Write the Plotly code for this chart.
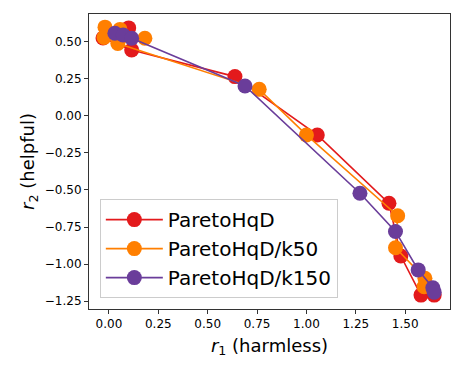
import plotly.graph_objects as go

FONT = "DejaVu Sans, Arial, sans-serif"

# (r1, r2) values of each front, in drawing order
hqd_r1 = [0.100, -0.030, 0.115, 0.638, 1.055, 1.418, 1.478, 1.580, 1.647]
hqd_r2 = [0.595, 0.527, 0.446, 0.266, -0.128, -0.590, -0.946, -1.210, -1.210]

k50_r1 = [-0.020, 0.056, -0.025, 0.182, 0.045, 0.761, 1.000, 1.462, 1.451, 1.600, 1.596]
k50_r2 = [0.600, 0.585, 0.530, 0.525, 0.490, 0.180, -0.128, -0.674, -0.890, -1.097, -1.153]

k150_r1 = [0.030, 0.072, 0.115, 0.689, 1.271, 1.451, 1.566, 1.640, 1.647]
k150_r2 = [0.559, 0.547, 0.525, 0.203, -0.522, -0.780, -1.040, -1.160, -1.190]

x_ticks = [0.0, 0.25, 0.5, 0.75, 1.0, 1.25, 1.5]
y_ticks = [0.5, 0.25, 0.0, -0.25, -0.5, -0.75, -1.0, -1.25]

series = [
    ("ParetoHqD", hqd_r1, hqd_r2, "#e31a1c"),
    ("ParetoHqD/k50", k50_r1, k50_r2, "#ff7f00"),
    ("ParetoHqD/k150", k150_r1, k150_r2, "#6a3d9a"),
]

fig = go.Figure()
for name, xs, ys, color in series:
    fig.add_trace(
        go.Scatter(
            x=xs, y=ys, mode="lines+markers", name=name,
            line=dict(color=color, width=1.6),
            marker=dict(color=color, size=15, line=dict(width=0)),
        )
    )

axis_common = dict(
    showline=True, mirror=True, linecolor="#333333", linewidth=1,
    ticks="outside", ticklen=4, tickwidth=1, tickcolor="#333333",
    showgrid=False, zeroline=False, tickformat=".2f", automargin=False,
    tickfont=dict(family=FONT, size=12, color="black"),
)
title_font = dict(family=FONT, size=18, color="black")

fig.update_xaxes(
    **axis_common, range=[-0.101, 1.727], tickvals=x_ticks,
    title=dict(text="<i>r</i><sub>1</sub> (harmless)", font=title_font, standoff=8),
)
fig.update_yaxes(
    **axis_common, range=[-1.304, 0.689], tickvals=y_ticks,
    title=dict(text="<i>r</i><sub>2</sub> (helpful)", font=title_font, standoff=5),
)

fig.update_layout(
    width=465, height=372,
    margin=dict(l=89, r=15, t=14, b=63),
    paper_bgcolor="white", plot_bgcolor="white",
    font=dict(family=FONT, color="black"),
    showlegend=True,
    legend=dict(
        x=0.03, y=0.037, xanchor="left", yanchor="bottom",
        bgcolor="rgba(255,255,255,0.8)", bordercolor="#cccccc", borderwidth=1,
        font=dict(family=FONT, size=20, color="black"),
        tracegroupgap=0, itemwidth=57,
    ),
)

# the page's default body margin would shift the figure
fig.write_html(
    "out.html",
    config={"displayModeBar": False},
    post_script="document.body.style.margin='0';",
)
